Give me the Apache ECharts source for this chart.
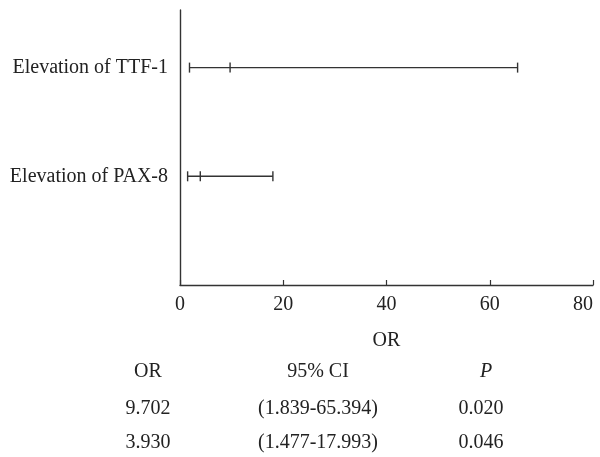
<!DOCTYPE html>
<html>
<head>
<meta charset="utf-8">
<script src="https://cdn.jsdelivr.net/npm/echarts@6/dist/echarts.min.js"></script>
<style>
  html, body { margin: 0; padding: 0; background: #fff; }
  #main { width: 600px; height: 457px; }
</style>
</head>
<body>
<div id="main"></div>
<script>
// data
const rows = ['Elevation of TTF-1', 'Elevation of PAX-8'];
const orVals = [9.702, 3.930];
const ciLow = [1.839, 1.477];
const ciHigh = [65.394, 17.993];
const pVals = ['0.020', '0.046'];
const xTicks = [0, 20, 40, 60, 80];

const font = '"Liberation Serif", "Times New Roman", serif';
const ink = '#222';

let chart = echarts.init(document.getElementById('main'));

// y position of each row: first row on top
let barData = rows.map((r, i) => [rows.length - i, ciLow[i], orVals[i], ciHigh[i]]);

function renderBar(params, api) {
  let y = api.value(0);
  let pLow = api.coord([api.value(1), y]);
  let pMid = api.coord([api.value(2), y]);
  let pHigh = api.coord([api.value(3), y]);
  let h = 5;
  let style = { stroke: '#333', lineWidth: 1.4 };
  let cap = (p) => ({ type: 'line', shape: { x1: p[0], y1: p[1] - h, x2: p[0], y2: p[1] + h }, style: style });
  return {
    type: 'group',
    children: [
      { type: 'line', shape: { x1: pLow[0], y1: pLow[1], x2: pHigh[0], y2: pHigh[1] }, style: style },
      cap(pLow), cap(pMid), cap(pHigh)
    ]
  };
}

// table under the chart
const colX = [148, 318, 481];
const headY = 372, rowY0 = 409, rowGap = 34;
let tableText = [];
function addText(x, y, s, italic) {
  tableText.push({
    type: 'text', x: x, y: y,
    style: { text: s, fill: ink, font: (italic ? 'italic ' : '') + '20px ' + font, align: 'center', verticalAlign: 'middle' }
  });
}
addText(colX[0], headY, 'OR');
addText(colX[1], headY, '95% CI');
addText(colX[2] + 5, headY, 'P', true);
rows.forEach((r, i) => {
  let y = rowY0 + i * rowGap;
  addText(colX[0], y, orVals[i].toFixed(3));
  addText(colX[1], y, '(' + ciLow[i].toFixed(3) + '-' + ciHigh[i].toFixed(3) + ')');
  addText(colX[2], y, pVals[i]);
});

let option = {
  animation: false,
  backgroundColor: '#fff',
  grid: { left: 180, right: 7, top: 10, bottom: 172, outerBoundsMode: 'none' },
  xAxis: {
    type: 'value',
    min: xTicks[0],
    max: xTicks[xTicks.length - 1],
    interval: 20,
    name: 'OR',
    nameLocation: 'middle',
    nameGap: 46,
    nameTextStyle: { color: ink, fontFamily: font, fontSize: 20 },
    axisLine: { show: true, lineStyle: { color: '#333', width: 1.4 } },
    axisTick: { show: true, inside: true, length: 5, lineStyle: { color: '#333', width: 1.2 } },
    axisLabel: { color: ink, fontFamily: font, fontSize: 20, margin: 10, alignMaxLabel: 'right' },
    splitLine: { show: false }
  },
  yAxis: {
    type: 'value',
    min: 0,
    max: 2.53,
    interval: 1,
    axisLine: { show: true, lineStyle: { color: '#333', width: 1.4 } },
    axisTick: { show: false },
    axisLabel: {
      color: ink, fontFamily: font, fontSize: 20, margin: 12,
      showMaxLabel: false,
      formatter: function (v) {
        let i = rows.length - v;
        return (Number.isInteger(v) && i >= 0 && i < rows.length) ? rows[i] : '';
      }
    },
    splitLine: { show: false }
  },
  series: [{
    type: 'custom',
    renderItem: renderBar,
    encode: { x: [1, 2, 3], y: 0 },
    data: barData
  }],
  graphic: tableText
};

option && chart.setOption(option);
</script>
</body>
</html>
